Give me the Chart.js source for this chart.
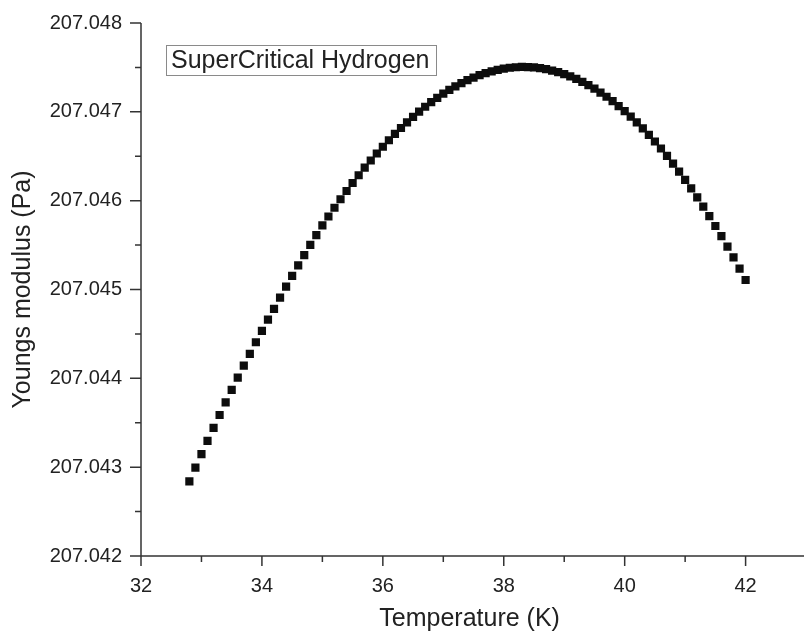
<!DOCTYPE html>
<html>
<head>
<meta charset="utf-8">
<script src="https://cdn.jsdelivr.net/npm/chart.js@4"></script>
<style>
  html, body { margin: 0; padding: 0; background: #fff; }
  #wrap { width: 804px; height: 635px; }
</style>
</head>
<body>
<div id="wrap"><canvas id="youngsChart" width="804" height="635"></canvas></div>
<script>
// temperatures (K), one square every 0.1 K
const temperatures = [
  32.8, 32.9, 33.0, 33.1, 33.2, 33.3, 33.4, 33.5, 33.6, 33.7,
  33.8, 33.9, 34.0, 34.1, 34.2, 34.3, 34.4, 34.5, 34.6, 34.7,
  34.8, 34.9, 35.0, 35.1, 35.2, 35.3, 35.4, 35.5, 35.6, 35.7,
  35.8, 35.9, 36.0, 36.1, 36.2, 36.3, 36.4, 36.5, 36.6, 36.7,
  36.8, 36.9, 37.0, 37.1, 37.2, 37.3, 37.4, 37.5, 37.6, 37.7,
  37.8, 37.9, 38.0, 38.1, 38.2, 38.3, 38.4, 38.5, 38.6, 38.7,
  38.8, 38.9, 39.0, 39.1, 39.2, 39.3, 39.4, 39.5, 39.6, 39.7,
  39.8, 39.9, 40.0, 40.1, 40.2, 40.3, 40.4, 40.5, 40.6, 40.7,
  40.8, 40.9, 41.0, 41.1, 41.2, 41.3, 41.4, 41.5, 41.6, 41.7,
  41.8, 41.9, 42.0
];

// Young's modulus (Pa)
const youngsModulus = [
  207.042840, 207.042994, 207.043146, 207.043295, 207.043442, 207.043587, 207.043729, 207.043869, 207.044007, 207.044142,
  207.044275, 207.044406, 207.044534, 207.044660, 207.044783, 207.044909, 207.045033, 207.045154, 207.045272, 207.045388,
  207.045502, 207.045613, 207.045721, 207.045822, 207.045920, 207.046016, 207.046109, 207.046199, 207.046286, 207.046371,
  207.046452, 207.046531, 207.046607, 207.046680, 207.046751, 207.046818, 207.046882, 207.046943, 207.047002, 207.047057,
  207.047109, 207.047158, 207.047204, 207.047247, 207.047287, 207.047323, 207.047356, 207.047386, 207.047413, 207.047436,
  207.047456, 207.047473, 207.047486, 207.047496, 207.047502, 207.047505, 207.047504, 207.047500, 207.047492, 207.047480,
  207.047465, 207.047447, 207.047425, 207.047399, 207.047370, 207.047337, 207.047301, 207.047261, 207.047217, 207.047170,
  207.047120, 207.047065, 207.047008, 207.046946, 207.046882, 207.046813, 207.046741, 207.046666, 207.046587, 207.046504,
  207.046418, 207.046328, 207.046235, 207.046138, 207.046037, 207.045933, 207.045826, 207.045715, 207.045600, 207.045482,
  207.045361, 207.045236, 207.045107
];

const xTicks = [32, 34, 36, 38, 40, 42];
const yTicks = [207.042, 207.043, 207.044, 207.045, 207.046, 207.047, 207.048];
const seriesLabel = 'SuperCritical Hydrogen';

const FONT = "'Liberation Sans', Arial, sans-serif";
const INK = '#222';

// axis lines, major + minor ticks (origin style) and the boxed legend
const originAxes = {
  id: 'originAxes',
  afterDraw(chart) {
    const { ctx, chartArea: a, scales: { x, y } } = chart;
    ctx.save();
    ctx.strokeStyle = '#333';
    ctx.lineWidth = 1.5;
    ctx.beginPath();
    ctx.moveTo(a.left, a.top);
    ctx.lineTo(a.left, a.bottom);
    ctx.lineTo(chart.width, a.bottom);

    const tick = (v, len, horiz) => {
      if (horiz) {
        const px = x.getPixelForValue(v);
        if (px > a.right + 1) return;
        ctx.moveTo(px, a.bottom);
        ctx.lineTo(px, a.bottom + len);
      } else {
        const py = y.getPixelForValue(v);
        ctx.moveTo(a.left, py);
        ctx.lineTo(a.left - len, py);
      }
    };
    xTicks.forEach((v, i) => {
      tick(v, 10, true);
      const step = i > 0 ? v - xTicks[i - 1] : xTicks[1] - xTicks[0];
      tick(v + step / 2, 6, true);
    });
    yTicks.forEach((v, i) => {
      tick(v, 11, false);
      if (i < yTicks.length - 1) tick((v + yTicks[i + 1]) / 2, 6, false);
    });
    ctx.stroke();

    // legend box
    ctx.lineWidth = 1;
    ctx.strokeStyle = '#8a8a8a';
    ctx.strokeRect(166.5, 45.5, 270, 30);
    ctx.fillStyle = INK;
    ctx.font = '25px ' + FONT;
    ctx.textBaseline = 'middle';
    ctx.textAlign = 'left';
    ctx.fillText(seriesLabel, 171, 61);
    ctx.restore();
  }
};

new Chart(document.getElementById('youngsChart'), {
  type: 'scatter',
  data: {
    datasets: [{
      label: seriesLabel,
      data: temperatures.map((t, i) => ({ x: t, y: youngsModulus[i] })),
      pointStyle: 'rect',
      pointRadius: 5.8,
      pointHoverRadius: 5.8,
      backgroundColor: '#0d0d0d',
      borderColor: '#0d0d0d',
      borderWidth: 0
    }]
  },
  options: {
    responsive: false,
    animation: false,
    devicePixelRatio: 1,
    layout: { padding: { top: 20, right: 0, bottom: 0, left: 0 } },
    plugins: {
      legend: { display: false },
      tooltip: { enabled: false }
    },
    scales: {
      x: {
        type: 'linear',
        min: 32,
        max: 42.87,
        afterBuildTicks: s => { s.ticks = xTicks.map(v => ({ value: v })); },
        afterFit: s => { s.height = 79; },
        grid: { display: false },
        border: { display: false },
        ticks: {
          padding: 10,
          color: INK,
          font: { family: FONT, size: 20 },
          callback: v => String(v)
        },
        title: {
          display: true,
          text: 'Temperature (K)',
          color: INK,
          font: { family: FONT, size: 25 },
          padding: { top: 0, bottom: 1 }
        }
      },
      y: {
        type: 'linear',
        min: 207.042,
        max: 207.048,
        afterBuildTicks: s => { s.ticks = yTicks.map(v => ({ value: v })); },
        afterFit: s => { s.width = 141; },
        grid: { display: false },
        border: { display: false },
        ticks: {
          padding: 11,
          color: INK,
          font: { family: FONT, size: 20 },
          callback: v => Number(v).toFixed(3)
        },
        title: {
          display: true,
          text: 'Youngs modulus (Pa)',
          color: INK,
          font: { family: FONT, size: 25 },
          padding: { top: 8, bottom: 0 }
        }
      }
    }
  },
  plugins: [originAxes]
});
</script>
</body>
</html>
